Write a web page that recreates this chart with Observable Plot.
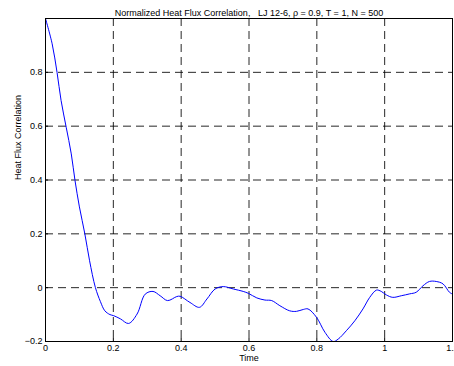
<!DOCTYPE html>
<html>
<head>
<meta charset="utf-8">
<script src="https://cdn.jsdelivr.net/npm/d3@7"></script>
<script src="https://cdn.jsdelivr.net/npm/@observablehq/plot@0.6"></script>
<style>
  html, body { margin: 0; padding: 0; background: #fff; }
  #chart svg { display: block; overflow: visible; }
</style>
</head>
<body>
<div id="chart"></div>
<script>
// Normalized heat flux autocorrelation versus time
const time = [0, 0.0196, 0.034, 0.046, 0.061, 0.076, 0.087, 0.1, 0.116, 0.13, 0.147, 0.162, 0.175, 0.19, 0.201, 0.221, 0.245, 0.27, 0.294, 0.317, 0.338, 0.36, 0.387, 0.397, 0.426, 0.454, 0.476, 0.5, 0.524, 0.554, 0.583, 0.598, 0.623, 0.647, 0.667, 0.691, 0.72, 0.74, 0.76, 0.774, 0.799, 0.824, 0.848, 0.863, 0.887, 0.912, 0.936, 0.956, 0.976, 0.99, 1.005, 1.024, 1.049, 1.074, 1.093, 1.113, 1.132, 1.152, 1.172, 1.191, 1.2];
const correlation = [1.0, 0.906, 0.8, 0.695, 0.596, 0.497, 0.398, 0.3, 0.2, 0.1, 0.001, -0.052, -0.086, -0.1, -0.104, -0.116, -0.133, -0.098, -0.024, -0.014, -0.03, -0.048, -0.033, -0.032, -0.055, -0.073, -0.042, -0.005, 0.004, -0.005, -0.014, -0.021, -0.038, -0.046, -0.048, -0.067, -0.086, -0.088, -0.081, -0.079, -0.11, -0.166, -0.2, -0.191, -0.16, -0.123, -0.079, -0.036, -0.009, -0.014, -0.027, -0.036, -0.03, -0.023, -0.017, 0.007, 0.023, 0.023, 0.014, -0.017, -0.024];

const xTicks = [0, 0.2, 0.4, 0.6, 0.8, 1, 1.2];
const yTicks = [-0.2, 0, 0.2, 0.4, 0.6, 0.8];
const xGrid = [0.2, 0.4, 0.6, 0.8, 1];
const yGrid = [0, 0.2, 0.4, 0.6, 0.8];

const title = "Normalized Heat Flux Correlation,   LJ 12-6, \u03C1 = 0.9, T = 1, N = 500";
const xLabel = "Time";
const yLabel = "Heat Flux Correlation";

const series = time.map((t, i) => ({t, c: correlation[i]}));
const fmt = d => d3.format("~g")(d);
const dash = "8,5";

const chart = Plot.plot({
  width: 454,
  height: 366,
  marginTop: 18,
  marginBottom: 25,
  marginLeft: 45,
  marginRight: 2,
  style: {fontFamily: "'Liberation Sans', Arial, sans-serif", fontSize: "9px", color: "#000", background: "#fff"},
  x: {domain: [0, 1.2]},
  y: {domain: [-0.2, 1]},
  marks: [
    Plot.ruleX(xGrid, {stroke: "#000", strokeWidth: 1, strokeDasharray: dash, strokeOpacity: 0.85}),
    Plot.ruleY(yGrid, {stroke: "#000", strokeWidth: 1, strokeDasharray: dash, strokeOpacity: 0.85}),
    // short inward tick marks along the bottom and left edges
    Plot.ruleX(xTicks, {y1: -0.2, y2: -0.2, insetTop: -3, stroke: "#000"}),
    Plot.ruleY(yTicks, {x1: 0, x2: 0, insetRight: -3, stroke: "#000"}),
    Plot.line(series, {x: "t", y: "c", stroke: "#0000ff", strokeWidth: 1, curve: "catmull-rom"}),
    Plot.frame({stroke: "#000", strokeWidth: 1}),
    Plot.axisX({ticks: xTicks, tickSize: 0, tickPadding: 3, tickFormat: fmt, label: null, fontSize: 9}),
    Plot.axisY({ticks: yTicks, tickSize: 0, tickPadding: 3, tickFormat: fmt, label: null, fontSize: 9}),
    Plot.text([title], {frameAnchor: "top", dy: -9, text: d => d, fontSize: 9}),
    Plot.text([xLabel], {frameAnchor: "bottom", dy: 19, text: d => d, fontSize: 9}),
    Plot.text([yLabel], {frameAnchor: "left", dx: -27, rotate: -90, text: d => d, fontSize: 9})
  ]
});
document.getElementById("chart").appendChild(chart);
</script>
</body>
</html>
